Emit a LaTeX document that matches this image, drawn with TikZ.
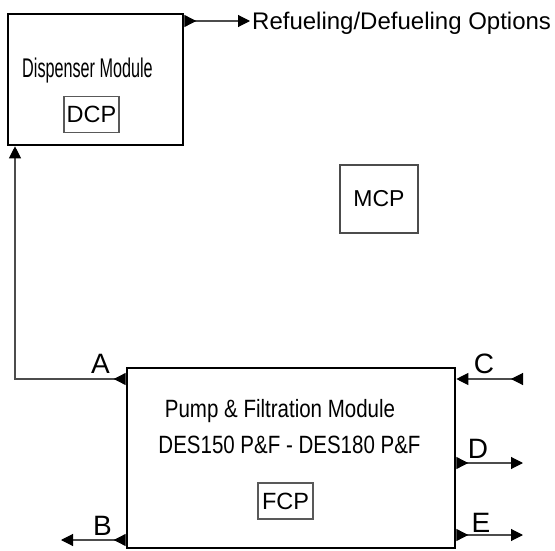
\documentclass[tikz,border=0pt]{standalone}
\usepackage{fontspec}
\setmainfont{Liberation Sans}
\newfontfamily\narrowfont[FakeStretch=0.6]{Liberation Sans}
\newfontfamily\pumpfont[FakeStretch=0.82]{Liberation Sans}
\usepackage{tikz}
\usetikzlibrary{arrows.meta,positioning}
\tikzset{
  module/.style={rectangle, draw=black, line width=2.6pt, fill=white, inner sep=0pt},
  panel/.style={rectangle, draw=black!70, line width=1.6pt, inner sep=0pt,
                font=\fontsize{23}{27}\selectfont},
  cpbox/.style={rectangle, draw=black!65, line width=1.3pt, inner sep=0pt,
                minimum width=55pt, minimum height=36pt, font=\fontsize{23.5}{27}\selectfont},
  portlbl/.style={anchor=base, inner sep=0pt, font=\fontsize{28}{32}\selectfont},
  flow/.style={{Triangle[reversed,length=12pt,width=12pt,color=black]}-{Triangle[length=12pt,width=12pt,color=black]},
               line width=1.1pt, draw=black!70}
}
\begin{document}
\begin{tikzpicture}[x=1pt,y=-1pt]
\useasboundingbox (0,0) rectangle (555,551);
% ---- Dispenser Module ----
\node[module, minimum width=175pt, minimum height=131pt] (disp) at (95.5,79.5) {};
\node[anchor=base, inner sep=0pt, font=\narrowfont\fontsize{27}{30}\selectfont] (disptxt) at (87.5,78) {Dispenser Module};
\node[cpbox] (dcp) at (91.5,114.5) {DCP};
\coordinate (refuel) at (250,21);
\node[anchor=base west, inner sep=0pt, font=\fontsize{24}{28}\selectfont] (reftxt) at (252,30) {Refueling/Defueling Options};
\draw[flow] (disp.east |- refuel) -- (refuel);
% ---- MCP ----
\node[panel, minimum width=78pt, minimum height=68pt] (mcp) at (379,199) {MCP};
% ---- Pump & Filtration Module ----
\node[module, minimum width=328pt, minimum height=180pt] (pump) at (291,458) {};
\node[anchor=base, inner sep=0pt, font=\pumpfont\fontsize{25}{30}\selectfont] (pumptxt) at (280,417) {Pump \& Filtration Module};
\node[anchor=base, inner sep=0pt, font=\pumpfont\fontsize{25}{30}\selectfont] (destxt) at (289.5,453) {DES150 P\&F - DES180 P\&F};
\node[cpbox] (fcp) at (285.5,501) {FCP};
% ---- ports ----
\coordinate (aEnd) at (15,379);
\coordinate (bEnd) at (61,540);
\coordinate (cEnd) at (523,379);
\coordinate (dEnd) at (523,463);
\coordinate (eEnd) at (523,535);
\draw[flow] (pump.west |- aEnd) -- (aEnd) -- (disp.south -| aEnd);
\draw[flow] (pump.west |- bEnd) -- (bEnd);
\draw[flow] (cEnd) -- (pump.east |- cEnd);
\draw[flow] (pump.east |- dEnd) -- (dEnd);
\draw[flow] (pump.east |- eEnd) -- (eEnd);
\node[portlbl] (lblA) at (100.5,373) {A};
\node[portlbl] (lblB) at (102.5,535) {B};
\node[portlbl] (lblC) at (484,373) {C};
\node[portlbl] (lblD) at (478,458) {D};
\node[portlbl] (lblE) at (481,532) {E};
\end{tikzpicture}
\end{document}
